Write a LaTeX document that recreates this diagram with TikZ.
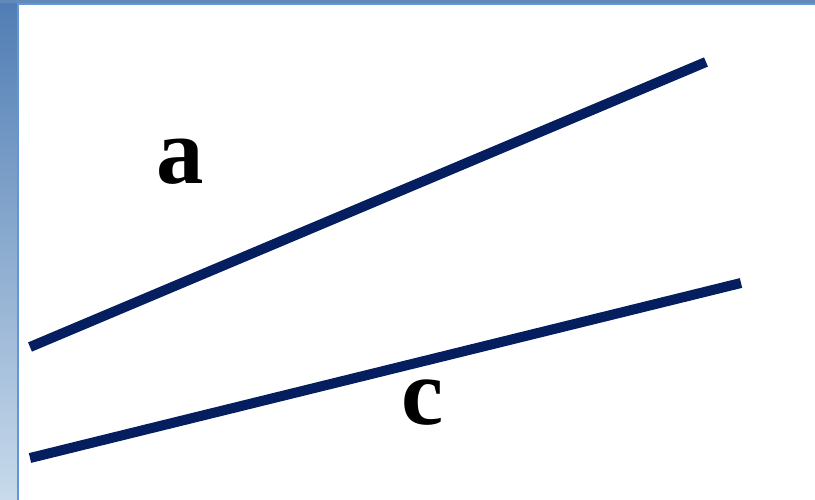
\documentclass[tikz,border=0pt]{standalone}
\usepackage{fontspec}
\setmainfont{Liberation Serif}
\usepackage{tikz}
\usepackage{xcolor}

\definecolor{linenavy}{RGB}{5,30,95}
\definecolor{frameblue}{RGB}{100,150,215}
\definecolor{skytop}{RGB}{80,125,180}
\definecolor{skybot}{RGB}{200,218,235}

\begin{document}
\begin{tikzpicture}[x=0.02cm, y=-0.02cm,
    every node/.style={font=\bfseries\fontsize{54}{54}\selectfont},
    side/.style={line width=10*0.02cm, draw=linenavy}]
    % Background
    \useasboundingbox (0,0) rectangle (815,500);
    \fill[white] (0,0) rectangle (815,500);
    \shade[top color=skytop, bottom color=skybot] (0,0) rectangle (18,500);
    \fill[skytop!90] (0,0) rectangle (815,3);
    \draw[frameblue, line width=2*0.02cm] (18,500) -- (18,4) -- (815,4);

    % Sides
    \coordinate (a1) at (30,347);
    \coordinate (a2) at (706,62);
    \coordinate (c1) at (30,458);
    \coordinate (c2) at (741,283);
    \draw[side] (a1) -- (a2);
    \draw[side] (c1) -- (c2);

    % Labels
    \node (la) at (180,162) {a};
    \node (lc) at (423,403) {c};
\end{tikzpicture}
\end{document}
